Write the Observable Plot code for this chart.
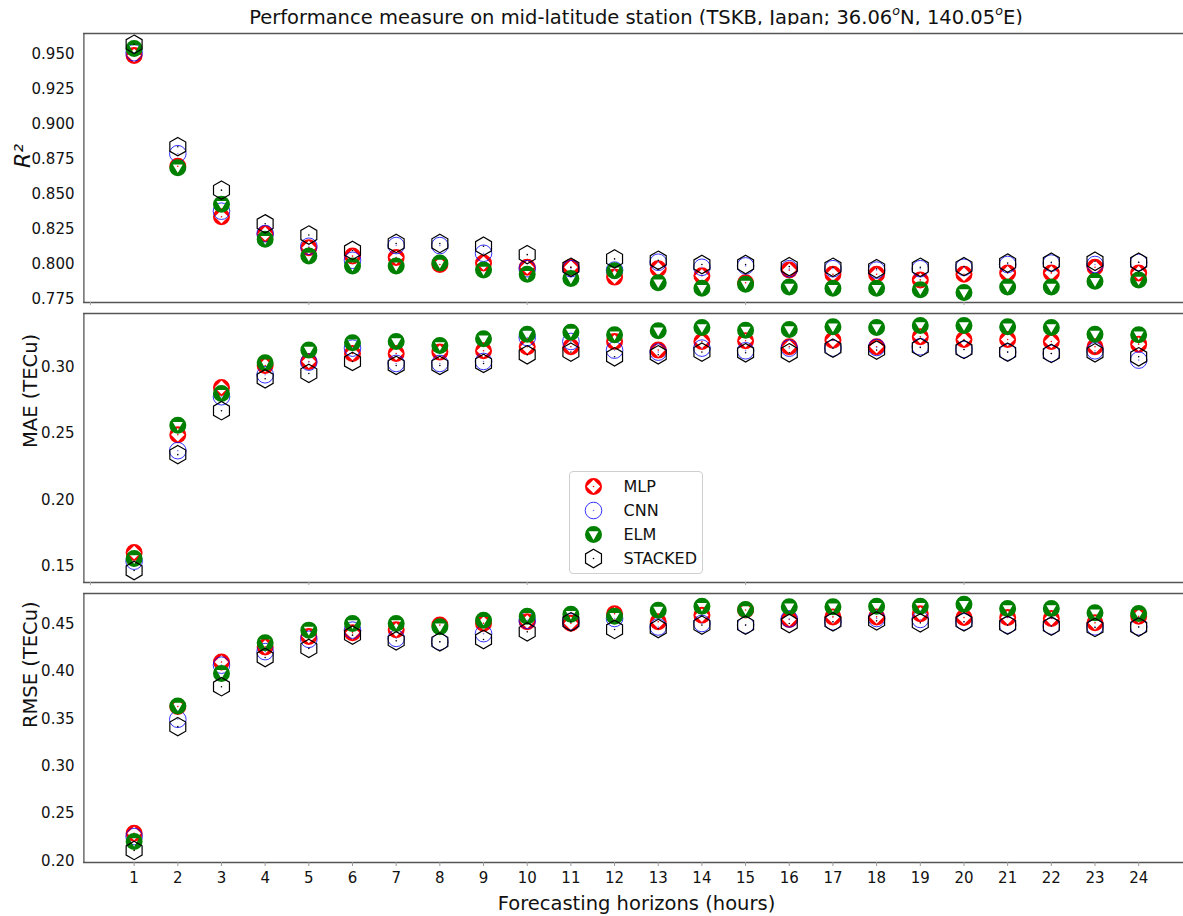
<!DOCTYPE html>
<html>
<head>
<meta charset="utf-8">
<script src="https://cdn.jsdelivr.net/npm/d3@7"></script>
<script src="https://cdn.jsdelivr.net/npm/@observablehq/plot@0.6"></script>
<style>
  body { margin: 0; background: #fff; font-family: "DejaVu Sans", sans-serif; }
  #page { position: relative; width: 1183px; height: 916px; overflow: hidden; background: #fff; }
  .panel { position: absolute; left: 0; }
  #title { position: absolute; left: 83px; width: 1106px; top: 6px; text-align: center;
           font-size: 19.5px; line-height: 24px; color: #111; white-space: nowrap; }
  #title sup { font-size: 65%; font-style: italic; line-height: 0; position: relative; top: -0.1em; vertical-align: super; }
  #legend { position: absolute; left: 569px; top: 471px; width: 132px; height: 101px;
            border: 1px solid #cfcfcf; border-radius: 4px; background: #fff; }
</style>
</head>
<body>
<div id="page">
  <div id="title">Performance measure on mid-latitude station (TSKB, Japan; 36.06<sup>o</sup>N, 140.05<sup>o</sup>E)</div>
  <div id="p1" class="panel" style="top:25px"></div>
  <div id="p2" class="panel" style="top:305px"></div>
  <div id="p3" class="panel" style="top:585px"></div>
  <div id="legend"></div>
</div>
<script>
// Forecast horizons (hours) and the four models
const hours = [1, 2, 3, 4, 5, 6, 7, 8, 9, 10, 11, 12, 13, 14, 15, 16, 17, 18, 19, 20, 21, 22, 23, 24];
const models = ["MLP", "CNN", "ELM", "STACKED"];
const minorTicks = [0, 5, 10, 15, 20];

// R² per model
const r2MLP     = [0.949, 0.870, 0.834, 0.822, 0.812, 0.806, 0.805, 0.800, 0.801, 0.798, 0.798, 0.791, 0.797, 0.792, 0.787, 0.796, 0.793, 0.793, 0.789, 0.793, 0.794, 0.794, 0.798, 0.794];
const r2CNN     = [0.951, 0.879, 0.838, 0.822, 0.813, 0.803, 0.8135, 0.8135, 0.808, 0.797, 0.797, 0.796, 0.8016, 0.798, 0.799, 0.797, 0.797, 0.796, 0.797, 0.798, 0.800, 0.801, 0.800, 0.8015];
const r2ELM     = [0.954, 0.869, 0.843, 0.818, 0.806, 0.799, 0.799, 0.801, 0.796, 0.793, 0.790, 0.7955, 0.787, 0.783, 0.786, 0.784, 0.783, 0.783, 0.782, 0.780, 0.784, 0.784, 0.788, 0.789];
const r2STACKED = [0.957, 0.884, 0.853, 0.829, 0.821, 0.810, 0.815, 0.815, 0.813, 0.807, 0.798, 0.804, 0.803, 0.800, 0.800, 0.7985, 0.798, 0.797, 0.798, 0.7985, 0.801, 0.8016, 0.8023, 0.8016];

// MAE (TECu) per model
const maeMLP     = [0.1605, 0.249, 0.2845, 0.301, 0.304, 0.310, 0.310, 0.311, 0.312, 0.315, 0.315, 0.319, 0.3125, 0.319, 0.3195, 0.315, 0.320, 0.315, 0.3225, 0.3205, 0.3205, 0.319, 0.315, 0.317];
const maeCNN     = [0.154, 0.237, 0.2775, 0.294, 0.3035, 0.314, 0.3025, 0.3025, 0.304, 0.322, 0.319, 0.3125, 0.311, 0.314, 0.312, 0.314, 0.314, 0.3145, 0.315, 0.313, 0.311, 0.310, 0.312, 0.305];
const maeELM     = [0.156, 0.256, 0.280, 0.303, 0.3125, 0.318, 0.319, 0.316, 0.321, 0.3245, 0.326, 0.324, 0.327, 0.3295, 0.3275, 0.328, 0.330, 0.3295, 0.331, 0.331, 0.330, 0.3295, 0.3245, 0.324];
const maeSTACKED = [0.147, 0.234, 0.267, 0.291, 0.295, 0.304, 0.301, 0.301, 0.3025, 0.309, 0.311, 0.3075, 0.309, 0.311, 0.3105, 0.3105, 0.314, 0.3125, 0.3145, 0.313, 0.311, 0.310, 0.3105, 0.3075];

// RMSE (TECu) per model
const rmseMLP     = [0.229, 0.363, 0.410, 0.426, 0.437, 0.441, 0.444, 0.449, 0.451, 0.4525, 0.451, 0.461, 0.4525, 0.4595, 0.465, 0.455, 0.4577, 0.4577, 0.461, 0.457, 0.457, 0.456, 0.4514, 0.4584];
const rmseCNN     = [0.2256, 0.3495, 0.4067, 0.421, 0.434, 0.4437, 0.435, 0.4313, 0.440, 0.454, 0.4525, 0.456, 0.447, 0.4507, 0.449, 0.4556, 0.4525, 0.456, 0.455, 0.4525, 0.449, 0.448, 0.4472, 0.4472];
const rmseELM     = [0.2204, 0.3635, 0.398, 0.4303, 0.4437, 0.4507, 0.4507, 0.4472, 0.4542, 0.4584, 0.4605, 0.4584, 0.4648, 0.469, 0.4655, 0.4683, 0.4683, 0.469, 0.469, 0.4711, 0.4666, 0.4666, 0.462, 0.4613];
const rmseSTACKED = [0.2109, 0.3417, 0.3839, 0.4148, 0.4244, 0.4384, 0.4324, 0.4313, 0.4338, 0.4419, 0.4525, 0.4444, 0.4454, 0.449, 0.449, 0.4507, 0.4525, 0.4535, 0.4514, 0.4525, 0.449, 0.448, 0.4465, 0.447];

// Axis ticks per panel
const r2Ticks   = [0.775, 0.800, 0.825, 0.850, 0.875, 0.900, 0.925, 0.950];
const maeTicks  = [0.15, 0.20, 0.25, 0.30];
const rmseTicks = [0.20, 0.25, 0.30, 0.35, 0.40, 0.45];

// Marker shapes (size = πr²)
const rad = size => Math.sqrt(size / Math.PI);
const ringDiamond = { draw(ctx, size) {
  const r = rad(size), d = r * 0.8;
  ctx.moveTo(r, 0); ctx.arc(0, 0, r, 0, 2 * Math.PI); ctx.closePath();
  ctx.moveTo(0, -d); ctx.lineTo(-d, 0); ctx.lineTo(0, d); ctx.lineTo(d, 0); ctx.closePath();
}};
const ringTriangle = { draw(ctx, size) {
  const r = rad(size), t = r * 0.68, oy = -0.4;
  ctx.moveTo(r, 0); ctx.arc(0, 0, r, 0, 2 * Math.PI); ctx.closePath();
  ctx.moveTo(-t * 0.866, -t / 2 + oy); ctx.lineTo(0, t + oy); ctx.lineTo(t * 0.866, -t / 2 + oy); ctx.closePath();
}};
const hexagon = { draw(ctx, size) {
  const r = rad(size);
  for (let k = 0; k < 6; ++k) {
    const a = -Math.PI / 2 + k * Math.PI / 3;
    if (k === 0) ctx.moveTo(r * Math.cos(a), r * Math.sin(a));
    else ctx.lineTo(r * Math.cos(a), r * Math.sin(a));
  }
  ctx.closePath();
}};

const styles = {
  MLP:     {r: 8.5, symbol: ringDiamond, fill: "#ff0000", stroke: "none"},
  CNN:     {r: 8.3, symbol: "circle", fill: "none", stroke: "#0000ff", strokeWidth: 1, strokeOpacity: 0.8},
  ELM:     {r: 8.5, symbol: ringTriangle, fill: "#008000", stroke: "none"},
  STACKED: {r: 9.2, symbol: hexagon, fill: "none", stroke: "#000", strokeWidth: 1.2}
};
const centerDot = {MLP: "#ff0000", CNN: "#8080ff", STACKED: "#000"};

const xDomain = [-0.15, 25.15];
const xRange = [83.4, 1188.4];
const spine = "#555";
const plotStyle = {fontFamily: "DejaVu Sans, sans-serif", fontSize: "15px", color: "#111", background: "#fff"};

function modelMarks(series) {
  const marks = [];
  models.forEach((m, i) => {
    const rows = hours.map((h, j) => ({hour: h, value: series[i][j]}));
    marks.push(Plot.dot(rows, {x: "hour", y: "value", ...styles[m]}));
    if (centerDot[m]) marks.push(Plot.dot(rows, {x: "hour", y: "value", r: 0.8, fill: centerDot[m], stroke: "none"}));
  });
  return marks;
}

function panel({series, domain, ticks, fmt, label, labelDx, labelSize, italic, height, marginBottom, bottom}) {
  const marks = [
    Plot.ruleY([domain[0], domain[1]], {stroke: spine, strokeWidth: 1.3}),
    Plot.ruleX([xDomain[0]], {stroke: spine, strokeWidth: 1.3}),
    Plot.axisY({ticks, tickFormat: fmt, tickSize: 0, tickPadding: 9, fontSize: 15, fill: "#111", label: null}),
    bottom
      ? Plot.axisX({ticks: hours, tickFormat: d3.format("d"), tickSize: 4, tickPadding: 6, fontSize: 15, stroke: "#999", fill: "#111", label: null})
      : Plot.axisX({ticks: minorTicks, tickFormat: () => "", tickSize: 3, stroke: "#aaa", label: null}),
    ...modelMarks(series),
    Plot.text([label], {frameAnchor: "left", dx: labelDx, rotate: -90, fontSize: labelSize || 19.5, fill: "#111", fontStyle: italic ? "italic" : "normal"})
  ];
  if (bottom) marks.push(Plot.text(["Forecasting horizons (hours)"], {frameAnchor: "bottom", dx: 3, dy: 47, fontSize: 19.5, fill: "#111"}));
  return Plot.plot({
    width: 1183, height, marginLeft: 83, marginRight: 0, marginTop: 8, marginBottom,
    style: plotStyle,
    x: {domain: xDomain, range: xRange},
    y: {domain},
    marks
  });
}

document.getElementById("p1").append(panel({
  series: [r2MLP, r2CNN, r2ELM, r2STACKED], domain: [0.7729, 0.9647], ticks: r2Ticks,
  fmt: d3.format(".3f"), label: "R²", labelDx: -61, labelSize: 22, italic: true, height: 285, marginBottom: 8
}));
document.getElementById("p2").append(panel({
  series: [maeMLP, maeCNN, maeELM, maeSTACKED], domain: [0.138, 0.340], ticks: maeTicks,
  fmt: d3.format(".2f"), label: "MAE (TECu)", labelDx: -53, height: 285, marginBottom: 8
}));
document.getElementById("p3").append(panel({
  series: [rmseMLP, rmseCNN, rmseELM, rmseSTACKED], domain: [0.1982, 0.4824], ticks: rmseTicks,
  fmt: d3.format(".2f"), label: "RMSE (TECu)", labelDx: -53, height: 331, marginBottom: 54, bottom: true
}));

// Legend: one marker and name per model
const legendMarks = [];
models.forEach(m => {
  legendMarks.push(Plot.dot([m], {x: 23, y: d => d, ...styles[m]}));
  if (centerDot[m]) legendMarks.push(Plot.dot([m], {x: 23, y: d => d, r: 0.8, fill: centerDot[m], stroke: "none"}));
});
legendMarks.push(Plot.text(models, {x: 53, y: d => d, text: d => d, textAnchor: "start", fontSize: 16, fill: "#111"}));
document.getElementById("legend").append(Plot.plot({
  width: 132, height: 101, margin: 0,
  style: {...plotStyle, background: "transparent"},
  x: {domain: [0, 132], range: [0, 132], axis: null},
  y: {type: "point", domain: models, range: [13, 87], padding: 0, axis: null},
  marks: legendMarks
}));
</script>
</body>
</html>
